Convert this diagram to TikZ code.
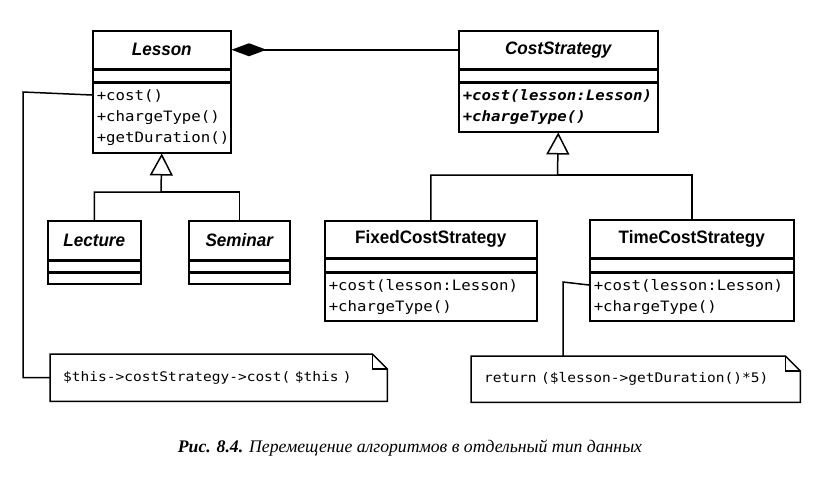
\documentclass[tikz,border=0pt]{standalone}
\usepackage{fontspec}
\setmainfont{Liberation Serif}
\newfontfamily\clsfont[FakeStretch=0.95]{Liberation Sans}
\newfontfamily\codefont[FakeStretch=1.1]{DejaVu Sans Mono}
\usetikzlibrary{arrows.meta,calc}

\tikzset{
  uml/.style={draw, line width=1.5pt, anchor=north west, inner sep=0pt},
  cname/.style={uml, font=\clsfont\fontsize{18}{20}\selectfont\bfseries},
  cmeth/.style={uml, inner xsep=4pt, align=left, font=\codefont\fontsize{14.3}{21}\selectfont},
  note/.style={anchor=north west, inner xsep=13pt, inner ysep=0pt, align=left,
    font=\codefont\fontsize{13.2}{16}\selectfont},
  link/.style={line width=1.5pt},
  inherit/.style={link, -{Triangle[open, length=22pt, width=23pt, line width=1.5pt]}},
  owns/.style={link, {Diamond[length=35pt, width=13pt]}-},
}

\begin{document}
\begin{tikzpicture}[x=1pt, y=-1pt]
  \useasboundingbox (0,0) rectangle (821,477);

  % Lesson
  \node[cname, minimum width=138pt, minimum height=38pt] (les) at (92,30) {\itshape Lesson};
  \node[uml, minimum width=138pt, minimum height=11pt] (lesA) at (les.south west) {};
  \node[cmeth, text width=130pt, minimum height=70pt] (lesM) at (lesA.south west)
    {+cost()\\+chargeType()\\+getDuration()};

  % CostStrategy
  \node[cname, minimum width=199pt, minimum height=38pt] (cst) at (458,30) {\itshape CostStrategy};
  \node[uml, minimum width=199pt, minimum height=11pt] (cstA) at (cst.south west) {};
  \node[cmeth, text width=191pt, minimum height=49pt] (cstM) at (cstA.south west)
    {\bfseries\itshape +cost(lesson:Lesson)\\\bfseries\itshape +chargeType()};

  % Lecture, Seminar
  \node[cname, minimum width=93pt, minimum height=39pt] (lec) at (47,220) {\itshape Lecture};
  \node[uml, minimum width=93pt, minimum height=10pt] (lecA) at (lec.south west) {};
  \node[uml, minimum width=93pt, minimum height=11pt] (lecM) at (lecA.south west) {};
  \node[cname, minimum width=101pt, minimum height=39pt] (sem) at (188,220) {\itshape Seminar};
  \node[uml, minimum width=101pt, minimum height=10pt] (semA) at (sem.south west) {};
  \node[uml, minimum width=101pt, minimum height=11pt] (semM) at (semA.south west) {};

  % FixedCostStrategy, TimeCostStrategy
  \node[cname, minimum width=212pt, minimum height=37pt] (fix) at (324,220) {FixedCostStrategy};
  \node[uml, minimum width=212pt, minimum height=12pt] (fixA) at (fix.south west) {};
  \node[cmeth, text width=204pt, minimum height=48pt] (fixM) at (fixA.south west)
    {+cost(lesson:Lesson)\\+chargeType()};
  \node[cname, minimum width=204pt, minimum height=38pt] (tim) at (589,219) {TimeCostStrategy};
  \node[uml, minimum width=204pt, minimum height=12pt] (timA) at (tim.south west) {};
  \node[cmeth, text width=196pt, minimum height=48pt] (timM) at (timA.south west)
    {+cost(lesson:Lesson)\\+chargeType()};

  % notes
  \node[note, text width=311pt, minimum height=47pt] (noteL) at (50,354)
    {\$this->costStrategy->cost( \$this )};
  \node[note, text width=303pt, minimum height=46pt] (noteT) at (471,356)
    {return (\$lesson->getDuration()*5)};
  \foreach \n in {noteL,noteT} {
    \draw[link] (\n.north west) -- ([xshift=-15pt]\n.north east)
      -- ([yshift=-15pt]\n.north east) -- (\n.south east) -- (\n.south west) -- cycle;
    \draw[link] ([xshift=-15pt]\n.north east) |- ([yshift=-15pt]\n.north east);
  }

  % connectors
  \draw[owns] (les.east) -- (cst.west);

  \coordinate (hubL) at (161,192);
  \draw[inherit] (lec.north) |- (hubL) -- (lesM.south);
  \draw[link] (sem.north) |- (hubL);

  \coordinate (hubC) at (557.5,175);
  \draw[inherit] (fix.north) |- (hubC) -- (cstM.south);
  \draw[link] (tim.north) |- (hubC);

  \coordinate (lesHook) at ($(lesM.north west)+(0,13)$);
  \coordinate (bendL) at (23,92);
  \draw[link] (lesHook) -- (bendL) |- (noteL.west);

  \coordinate (timHook) at ($(timM.north west)+(0,13)$);
  \coordinate (bendT) at (563,282);
  \draw[link] (timHook) -- (bendT) -- (bendT |- noteT.north);

  % caption
  \node[font=\itshape\fontsize{17.7}{21}\selectfont] (cap) at (410,448)
    {\textbf{Рис. 8.4.} Перемещение алгоритмов в отдельный тип данных};
\end{tikzpicture}
\end{document}
